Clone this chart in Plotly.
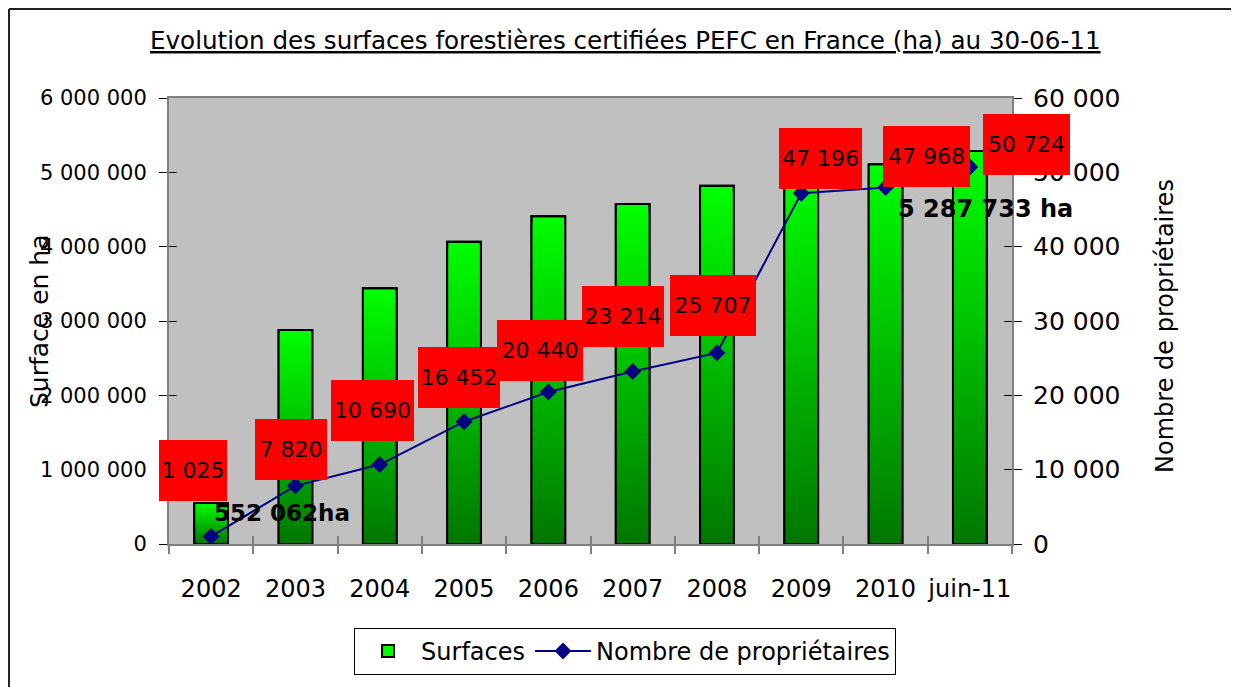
import plotly.graph_objects as go

# ---------------- data ----------------
years = ["2002", "2003", "2004", "2005", "2006", "2007", "2008", "2009", "2010", "juin-11"]
surfaces = [552062, 2880000, 3440000, 4065000, 4410000, 4575000, 4820000, 4960000, 5110000, 5287733]
owners = [1025, 7820, 10690, 16452, 20440, 23214, 25707, 47196, 47968, 50724]

# ---------------- styles (label placement, px) ----------------
label_dx = [-18, -4, -7, -5, -8, -10, -4, 19, 41, 57]
label_dy = [66, 36, 54, 44, 42, 55, 47, 35, 31, 22]
label_w = [68, 72, 83, 82, 86, 82, 86, 83, 87, 87]

FONT = "DejaVu Sans"
W, H = 1231, 679
ML, MR, MT, MB = 161, 227, 90, 143
PW, PH = W - ML - MR, H - MT - MB


def fmt(v):
    return f"{v:,}".replace(",", " ")


fig = go.Figure()

# gradient bars: overlaid layers, bright at top -> dark at bottom
N = 45
top_rgb = (0, 255, 0)
bot_rgb = (0, 118, 0)
for i in range(N):
    frac_top = 1 - i / N
    f = 1 - (i + 0.5) / N
    col = tuple(int(round(b + (t - b) * f)) for t, b in zip(top_rgb, bot_rgb))
    fig.add_trace(go.Bar(
        x=years,
        y=[v * frac_top for v in surfaces],
        width=0.4,
        marker=dict(color=f"rgb{col}" if i else "rgb(0,255,0)",
                    line=dict(color="black", width=2 if i == 0 else 0)),
        name="Surfaces",
        showlegend=(i == 0),
        hoverinfo="skip",
    ))
# outline on top
fig.add_trace(go.Bar(
    x=years, y=surfaces, width=0.4,
    marker=dict(color="rgba(0,0,0,0)", line=dict(color="black", width=2)),
    showlegend=False, name="Surfaces",
))

fig.add_trace(go.Scatter(
    x=years, y=owners, yaxis="y2", mode="lines+markers",
    name="Nombre de propriétaires",
    line=dict(color="#000080", width=2),
    marker=dict(symbol="diamond", size=13, color="#000080"),
))

# dummy traces for overlay (inside-tick) axes
fig.add_trace(go.Scatter(x=[None], y=[None], xaxis="x2", yaxis="y3",
                         showlegend=False, hoverinfo="skip"))
fig.add_trace(go.Scatter(x=[None], y=[None], xaxis="x2", yaxis="y4",
                         showlegend=False, hoverinfo="skip"))

annotations = []
for idx, (v, dx, dy, w) in enumerate(zip(owners, label_dx, label_dy, label_w)):
    annotations.append(dict(
        x=idx, y=v, xref="x", yref="y2", xshift=dx, yshift=dy,
        text=fmt(v), showarrow=False, xanchor="center", yanchor="middle",
        bgcolor="#FF0000", width=w, height=61, borderpad=0, borderwidth=0,
        font=dict(family=FONT, size=22, color="black"),
    ))

# bold surface annotations
annotations.append(dict(
    x=0, y=surfaces[0], xref="x", yref="y", xshift=71, yshift=-10,
    text="<b>" + fmt(surfaces[0]) + "ha</b>", showarrow=False,
    font=dict(family=FONT, size=23, color="black"),
))
annotations.append(dict(
    x=len(years) - 1, y=surfaces[-1], xref="x", yref="y", xshift=16, yshift=-58,
    text="<b>" + fmt(surfaces[-1]) + " ha</b>", showarrow=False,
    font=dict(family=FONT, size=24, color="black"),
))

# title
annotations.append(dict(
    x=0.542, y=1.13, xref="paper", yref="paper", xanchor="center", yanchor="middle",
    text="<u>Evolution des surfaces forestières certifiées PEFC en France (ha) au 30-06-11</u>",
    showarrow=False, font=dict(family=FONT, size=24.6, color="black"),
))
# axis titles
annotations.append(dict(
    x=-0.1542, y=0.5, xref="paper", yref="paper", text="Surface en ha",
    textangle=-90, showarrow=False, xanchor="center", yanchor="middle",
    font=dict(family=FONT, size=25, color="black"),
))
annotations.append(dict(
    x=1.1815, y=0.489, xref="paper", yref="paper", text="Nombre de propriétaires",
    textangle=-90, showarrow=False, xanchor="center", yanchor="middle",
    font=dict(family=FONT, size=24, color="black"),
))

fx0 = -(ML - 1) / PW
fy1 = 1 + (MT - 1) / PH
fig.update_layout(
    width=W, height=H,
    margin=dict(l=ML, r=MR, t=MT, b=MB, pad=0),
    paper_bgcolor="white", plot_bgcolor="#C0C0C0",
    barmode="overlay",
    separators=", ",
    font=dict(family=FONT, color="black"),
    annotations=annotations,
    shapes=[
        dict(type="line", xref="paper", yref="paper", x0=fx0, x1=1.4, y0=fy1, y1=fy1,
             line=dict(color="#222222", width=2), layer="below"),
        dict(type="line", xref="paper", yref="paper", x0=fx0, x1=fx0, y0=-0.6, y1=fy1,
             line=dict(color="#222222", width=2), layer="below"),
    ],
    xaxis=dict(
        type="category", categoryorder="array", categoryarray=years,
        range=[-0.5, 9.5], tickson="boundaries", ticks="outside", ticklen=8,
        tickcolor="#808080", tickwidth=2, tickangle=0,
        showline=True, linecolor="#808080", linewidth=2, mirror=True,
        showgrid=False, tickfont=dict(size=24), ticklabelstandoff=22,
    ),
    xaxis2=dict(
        overlaying="x", anchor="y3", range=[-0.5, 9.5], tick0=-0.5, dtick=1,
        ticks="inside", ticklen=8, tickcolor="#808080", tickwidth=2,
        showticklabels=False, showgrid=False, zeroline=False, showline=False,
    ),
    yaxis=dict(
        range=[0, 6000000], dtick=1000000, tickformat=",.0f",
        ticks="outside", ticklen=8, tickcolor="black", tickwidth=1,
        showline=True, linecolor="#808080", linewidth=2, mirror=True,
        showgrid=False, zeroline=False, tickfont=dict(size=21),
        ticklabelstandoff=8,
    ),
    yaxis2=dict(
        overlaying="y", side="right", range=[0, 60000], dtick=10000,
        tickformat=",.0f", ticks="outside", ticklen=8, tickcolor="black",
        tickwidth=1, showline=True, linecolor="#808080", linewidth=2,
        showgrid=False, zeroline=False, tickfont=dict(size=25),
        ticklabelstandoff=6,
    ),
    yaxis3=dict(
        overlaying="y", anchor="x2", side="left", range=[0, 6000000], dtick=1000000,
        ticks="inside", ticklen=8, tickcolor="black", tickwidth=1,
        showticklabels=False, showgrid=False, zeroline=False, showline=False,
    ),
    yaxis4=dict(
        overlaying="y", anchor="x2", side="right", range=[0, 60000], dtick=10000,
        ticks="inside", ticklen=8, tickcolor="black", tickwidth=1,
        showticklabels=False, showgrid=False, zeroline=False, showline=False,
    ),
    legend=dict(
        orientation="h", x=0.541, xanchor="center", y=-0.188, yanchor="top",
        bordercolor="black", borderwidth=1, bgcolor="white",
        font=dict(size=24), traceorder="normal", itemwidth=56,
    ),
)

fig.write_html("out.html")
